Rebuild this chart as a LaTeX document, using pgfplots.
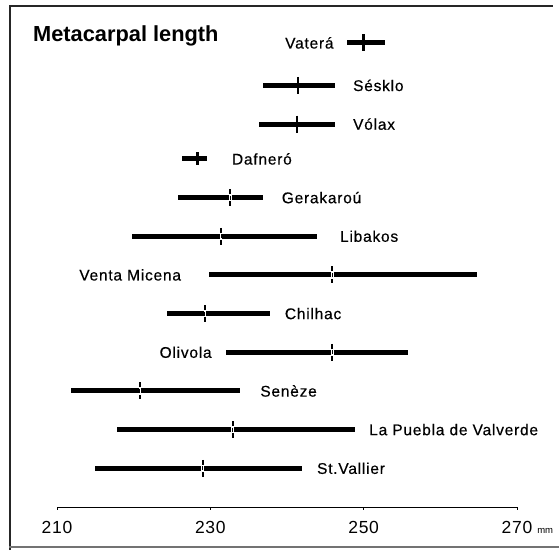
\documentclass[border=0pt]{standalone}
\usepackage{fontspec}
\setmainfont{Liberation Sans}
\usepackage{pgfplots}
\usepackage{pgfplotstable}
\pgfplotsset{compat=1.18}

% Metacarpal length ranges (min, mean, max, in mm) per site; pos = row height
\pgfplotstableread{
pos   lo     mean   hi
12    247.8  250.0  252.8
10.9  236.9  241.4  246.2
9.9   236.3  241.3  246.2
}\solidtick
\pgfplotstableread{
pos   lo     mean   hi
9     226.3  228.3  229.6
}\dafnero
\pgfplotstableread{
pos   lo     mean   hi
8     225.8  232.6  236.9
7     219.8  231.4  243.9
6     229.8  245.9  264.8
5     224.3  229.3  237.8
4     232.0  245.9  255.8
3     211.8  220.8  233.9
2     217.8  232.9  248.9
1     215.0  229.0  241.9
}\brokentick

\begin{document}
\begin{tikzpicture}[lab/.style={font=\fontsize{15.5}{18}\selectfont\addfontfeature{LetterSpace=5,FakeBold=0.4}, inner sep=0pt}]
\useasboundingbox (0,0) rectangle (559pt,551pt);
% frame
\draw[black!85, line width=2.2pt] (10pt,1pt) -- (10pt,545pt) -- (553pt,545pt);
\draw[black!55, line width=2.5pt] (9pt,4pt) -- (559pt,4pt);
\node[anchor=base west, inner sep=0pt, font=\fontsize{21.8}{24}\selectfont\bfseries]
  at (33pt,509.5pt) {Metacarpal length};

\begin{axis}[
  at={(57pt,44pt)}, anchor=south west,
  scale only axis, width=460pt, height=497pt,
  xmin=210, xmax=270, ymin=0, ymax=12.85,
  axis x line=bottom, axis y line=none,
  axis line style={-, line width=0.9pt},
  xtick={210,230,250,270},
  xticklabels={210,230,250,{270\rlap{\hspace{5pt}\fontsize{9.5}{10}\selectfont\addfontfeature{LetterSpace=0} mm}}},
  tick align=outside, major tick length=2.5pt,
  tick style={line width=0.9pt, black},
  /pgf/number format/assume math mode=true,
  xticklabel style={font=\fontsize{17.5}{20}\selectfont\addfontfeature{LetterSpace=4}, yshift=-8pt},
  clip=false,
  range/.style={only marks, black, mark=|,
    error bars/x dir=both, error bars/x explicit, error bars/error mark=none,
    error bars/error bar style={line width=5pt}},
]
% ranges with a full mean stroke
\addplot[range, mark size=8.5pt, mark options={line width=2.4pt}]
  table[x=mean, y=pos,
        x error plus expr=\thisrow{hi}-\thisrow{mean},
        x error minus expr=\thisrow{mean}-\thisrow{lo}] {\solidtick};
\addplot[range, mark size=6.5pt, mark options={line width=2.4pt}]
  table[x=mean, y=pos,
        x error plus expr=\thisrow{hi}-\thisrow{mean},
        x error minus expr=\thisrow{mean}-\thisrow{lo}] {\dafnero};
% ranges with a broken mean stroke: stroke, white gap, then the bar
\addplot[only marks, black, mark=|, mark size=8.5pt, mark options={line width=2pt}]
  table[x=mean, y=pos] {\brokentick};
\addplot[only marks, white, mark=|, mark size=3.6pt, mark options={line width=2.6pt}]
  table[x=mean, y=pos] {\brokentick};
\addplot[range, mark size=2pt, mark options={line width=1pt}]
  table[x=mean, y=pos,
        x error plus expr=\thisrow{hi}-\thisrow{mean},
        x error minus expr=\thisrow{mean}-\thisrow{lo}] {\brokentick};

% site names
\node[lab, anchor=east] at (axis cs:246.1,12)   {Vaterá};
\node[lab, anchor=west] at (axis cs:248.6,10.9) {Sésklo};
\node[lab, anchor=west] at (axis cs:248.6,9.9)  {Vólax};
\node[lab, anchor=west] at (axis cs:232.8,9)    {Dafneró};
\node[lab, anchor=west] at (axis cs:239.3,8)    {Gerakaroú};
\node[lab, anchor=west] at (axis cs:246.9,7)    {Libakos};
\node[lab, anchor=east] at (axis cs:226.2,6)    {Venta Micena};
\node[lab, anchor=west] at (axis cs:239.7,5)    {Chilhac};
\node[lab, anchor=east] at (axis cs:230.2,4)    {Olivola};
\node[lab, anchor=west] at (axis cs:236.5,3)    {Senèze};
\node[lab, anchor=west] at (axis cs:250.7,2)    {La Puebla de Valverde};
\node[lab, anchor=west] at (axis cs:243.9,1)    {St.Vallier};
\end{axis}
\end{tikzpicture}
\end{document}
